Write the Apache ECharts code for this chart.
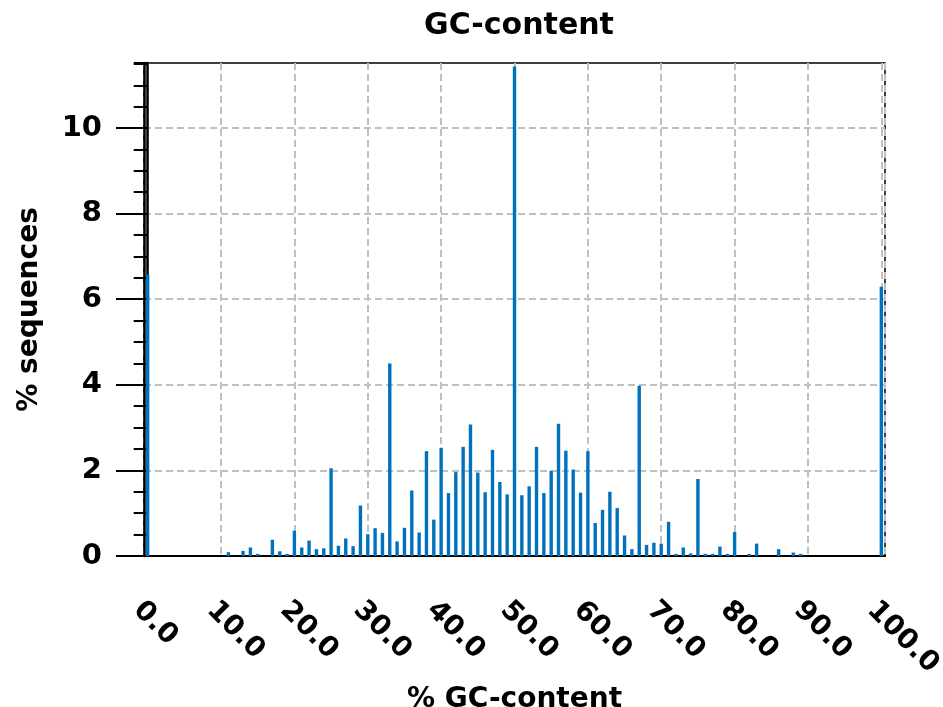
<!DOCTYPE html>
<html><head><meta charset="utf-8">
<script src="https://cdn.jsdelivr.net/npm/echarts@6/dist/echarts.min.js"></script>
<style>html,body{margin:0;padding:0;background:#fff}#c{width:943px;height:707px}</style>
</head><body><div id="c"></div>
<script>
const gcPositions = [0,11,13,14,15,17,18,19,20,21,22,23,24,25,26,27,28,29,30,31,32,33,34,35,36,37,38,39,40,41,42,43,44,45,46,47,48,49,50,51,52,53,54,55,56,57,58,59,60,61,62,63,64,65,66,67,68,69,70,71,72,73,74,75,76,77,78,79,80,82,83,86,88,89,100];
const pctSequences = [6.58,0.09,0.12,0.2,0.05,0.38,0.11,0.05,0.59,0.2,0.36,0.16,0.18,2.05,0.24,0.41,0.23,1.18,0.51,0.65,0.54,4.5,0.34,0.66,1.53,0.55,2.45,0.85,2.53,1.47,1.96,2.55,3.07,1.95,1.49,2.48,1.73,1.44,11.44,1.42,1.63,2.55,1.47,1.99,3.09,2.46,2.02,1.48,2.45,0.77,1.08,1.5,1.12,0.48,0.16,3.98,0.26,0.31,0.29,0.8,0.05,0.2,0.06,1.8,0.05,0.05,0.22,0.05,0.56,0.05,0.29,0.16,0.08,0.05,6.29];
const xTickLabels = [0,10,20,30,40,50,60,70,80,90,100];
const yTickLabels = [0,2,4,6,8,10];

const FONT = 'DejaVu Sans';
const chart = echarts.init(document.getElementById('c'), null, {renderer:'canvas'});
const grid = {left:144, right:58, top:63, bottom:151, outerBoundsMode:'none', containLabel:false,
  show:true, borderColor:'#000', borderWidth:1.5, backgroundColor:'transparent'};
chart.setOption({
  animation:false,
  title:{text:'GC-content', left:514, textAlign:'center', top:6,
    textStyle:{fontFamily:FONT, fontWeight:'bold', fontSize:30, color:'#000'}},
  grid: grid,
  xAxis:{type:'value', min:-0.5, max:100.5, splitNumber:10,
    name:'% GC-content', nameLocation:'middle', nameGap:110,
    nameTextStyle:{fontFamily:FONT, fontWeight:'bold', fontSize:28, color:'#000'},
    axisLine:{show:true, onZero:false, lineStyle:{color:'#000', width:2}},
    axisTick:{show:false},
    axisLabel:{customValues:xTickLabels, rotate:-45, margin:40, align:'left', verticalAlign:'top',
      fontFamily:FONT, fontWeight:'bold', fontSize:28, color:'#000',
      formatter:v=>Number(v).toFixed(1)},
    splitLine:{show:true, lineStyle:{color:'#c0c0c0', width:2, type:[7,4]}}},
  yAxis:[
    {type:'value', min:0, max:11.52, interval:0.5, position:'left',
      axisLine:{show:true, lineStyle:{color:'#000', width:2.5}},
      axisTick:{show:true, length:14, lineStyle:{color:'#000', width:2}},
      axisLabel:{show:false}, splitLine:{show:false}},
    {type:'value', min:0, max:11.52, interval:2, position:'left', offset:0,
      name:'% sequences', nameLocation:'middle', nameGap:100,
      nameTextStyle:{fontFamily:FONT, fontWeight:'bold', fontSize:28, color:'#000'},
      axisLine:{show:true, lineStyle:{color:'#000', width:2.5}},
      axisTick:{show:true, length:28, customValues:yTickLabels, lineStyle:{color:'#000', width:2}},
      axisLabel:{show:true, customValues:yTickLabels, margin:42, fontFamily:FONT, fontWeight:'bold', fontSize:29, color:'#000'},
      splitLine:{show:true, lineStyle:{color:'#c0c0c0', width:2, type:[7,4]}}}
  ],
  series:[{type:'bar', yAxisIndex:1, barWidth:3.4, itemStyle:{color:'#0072bd'},
    data: gcPositions.map((x,i)=>[x, pctSequences[i]])}]
});
</script></body></html>
